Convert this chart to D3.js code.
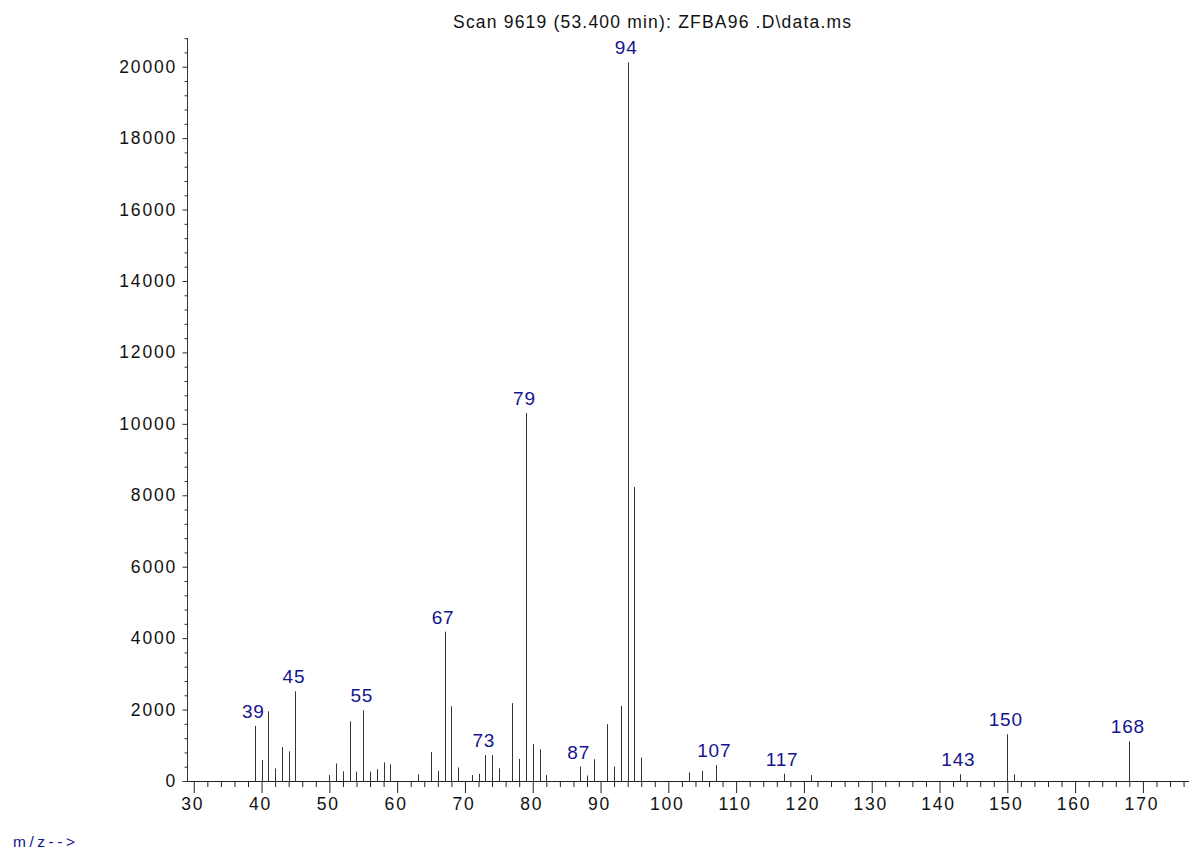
<!DOCTYPE html>
<html>
<head>
<meta charset="utf-8">
<script src="https://cdn.jsdelivr.net/npm/d3@7"></script>
<style>
  html, body { margin: 0; padding: 0; background: #fff; }
  svg { display: block; font-family: "Liberation Sans", Arial, sans-serif; }
</style>
</head>
<body>
<svg id="chart" width="1189" height="853"></svg>
<script>
// Mass spectrum: m/z values and their abundances
const mz = [39, 40, 41, 42, 43, 44, 45, 50, 51, 52, 53, 54, 55, 56, 57, 58, 59, 63, 65, 66,
            67, 68, 69, 71, 72, 73, 74, 75, 77, 78, 79, 80, 81, 82, 87, 88, 89, 91, 92, 93,
            94, 95, 96, 103, 105, 107, 117, 121, 143, 150, 151, 168];
const abundance = [1540, 590, 1950, 350, 950, 830, 2510, 165, 490, 270, 1670, 260, 1980, 260, 330, 520, 470, 185, 810, 285,
                   4180, 2090, 380, 165, 200, 725, 725, 355, 2180, 620, 10300, 1030, 890, 165, 405, 155, 610, 1590, 405, 2100,
                   20120, 8230, 655, 240, 290, 445, 205, 165, 190, 1310, 185, 1110];
// Peaks that carry their m/z as a label
const labeledPeaks = [39, 45, 55, 67, 73, 79, 87, 94, 107, 117, 143, 150, 168];

const xMajorTicks = [30, 40, 50, 60, 70, 80, 90, 100, 110, 120, 130, 140, 150, 160, 170];
const yMajorTicks = [0, 2000, 4000, 6000, 8000, 10000, 12000, 14000, 16000, 18000, 20000];

const titleText = "Scan 9619 (53.400 min): ZFBA96 .D\\data.ms";
const xAxisLabel = "m/z-->";

const svg = d3.select("#chart");
const labelBlue = "#14148e";

const x = d3.scaleLinear().domain([29, 176.8]).range([187, 1189]);
const y = d3.scaleLinear().domain([0, 20000]).range([781, 66.7]);
const yTop = 20800;

// Axes
const xAxisG = svg.append("g").attr("transform", `translate(0,${y(0)})`);
xAxisG.call(d3.axisBottom(x)
  .tickValues(d3.range(30, 177, 2))
  .tickSizeInner(6).tickSizeOuter(0).tickFormat(""));
xAxisG.call(g => g.selectAll(".tick").filter(d => d % 10 === 0).select("line").attr("y2", 12));
xAxisG.select(".domain").attr("d", `M${x(29)},0.5H1189`);
xAxisG.selectAll("line, path").attr("stroke", "#222");

xAxisG.selectAll(".major-label")
  .data(xMajorTicks)
  .join("text")
  .attr("class", "major-label")
  .attr("x", d => x(d) - 1)
  .attr("y", 29)
  .attr("text-anchor", "middle")
  .attr("font-size", 17.5)
  .attr("letter-spacing", 1.8)
  .attr("fill", "#111")
  .text(d => d);

const yAxisG = svg.append("g").attr("transform", `translate(${x(29)},0)`);
yAxisG.call(d3.axisLeft(y)
  .tickValues(d3.range(0, yTop + 1, 400))
  .tickSizeInner(2.5).tickSizeOuter(0).tickFormat(""));
yAxisG.call(g => g.selectAll(".tick").filter(d => d % 2000 === 0).select("line").attr("x2", -4.5));
yAxisG.select(".domain").attr("d", `M0.5,${y(yTop)}V${y(0)}`);
yAxisG.selectAll("line, path").attr("stroke", "#333");

yAxisG.selectAll(".major-label")
  .data(yMajorTicks)
  .join("text")
  .attr("class", "major-label")
  .attr("x", -10)
  .attr("y", d => y(d) + 6)
  .attr("text-anchor", "end")
  .attr("font-size", 17.5)
  .attr("letter-spacing", 1.8)
  .attr("fill", "#111")
  .text(d => d);

// Spectrum sticks
const peaks = mz.map((m, i) => ({ m, v: abundance[i] }));
svg.append("g")
  .selectAll("line")
  .data(peaks)
  .join("line")
  .attr("x1", d => Math.round(x(d.m)) + 0.5)
  .attr("x2", d => Math.round(x(d.m)) + 0.5)
  .attr("y1", y(0))
  .attr("y2", d => y(d.v))
  .attr("stroke", "#333")
  .attr("stroke-width", 1);

// Peak labels
svg.append("g")
  .selectAll("text")
  .data(peaks.filter(d => labeledPeaks.includes(d.m)))
  .join("text")
  .attr("x", d => x(d.m) - 1.5)
  .attr("y", d => y(d.v) - 8)
  .attr("text-anchor", "middle")
  .attr("font-size", 19)
  .attr("letter-spacing", 0.8)
  .attr("fill", labelBlue)
  .text(d => d.m);

// Title
svg.append("text")
  .attr("x", 453)
  .attr("y", 28)
  .attr("font-size", 17.5)
  .attr("textLength", 398)
  .attr("lengthAdjust", "spacing")
  .attr("fill", "#111")
  .text(titleText);

// X axis caption
svg.append("text")
  .attr("x", 13)
  .attr("y", 847)
  .attr("font-size", 15.5)
  .attr("textLength", 62)
  .attr("lengthAdjust", "spacing")
  .attr("fill", labelBlue)
  .text(xAxisLabel);
</script>
</body>
</html>
